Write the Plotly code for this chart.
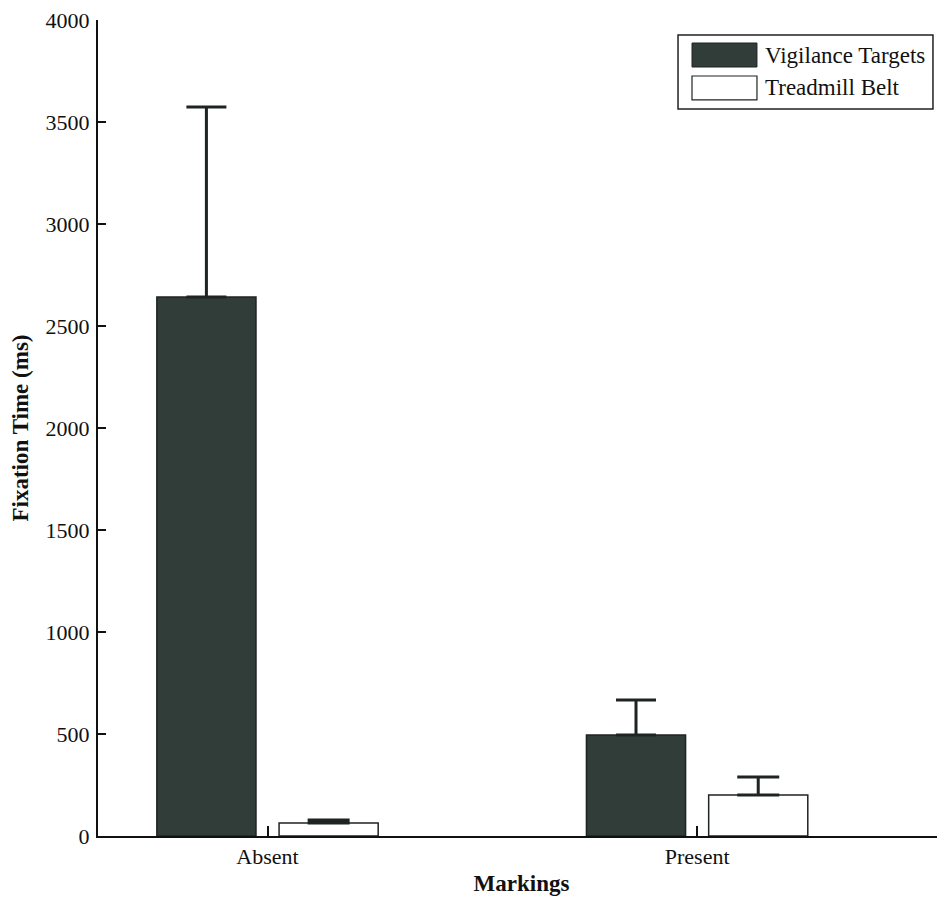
import plotly.graph_objects as go

categories = ["Absent", "Present"]
series_names = ["Vigilance Targets", "Treadmill Belt"]
vigilance_means = [2642, 495]
vigilance_err = [932, 172]
treadmill_means = [64, 201]
treadmill_err = [14, 88]
y_ticks = [0, 500, 1000, 1500, 2000, 2500, 3000, 3500, 4000]

DARK = "#313d38"
EDGE = "#1e2421"
FONT = "Liberation Serif"

fig = go.Figure()
fig.add_trace(go.Bar(
    x=categories, y=vigilance_means, name=series_names[0],
    marker=dict(color=DARK, line=dict(color=EDGE, width=1.5)),
    error_y=dict(type="data", array=vigilance_err, arrayminus=[0, 0], symmetric=False,
                 color=EDGE, thickness=3, width=20),
    showlegend=False,
))
fig.add_trace(go.Bar(
    x=categories, y=treadmill_means, name=series_names[1],
    marker=dict(color="white", line=dict(color=EDGE, width=1.5)),
    error_y=dict(type="data", array=treadmill_err, arrayminus=[0, 0], symmetric=False,
                 color=EDGE, thickness=3, width=21),
    showlegend=False,
))

# custom legend (box, swatches, labels)
shapes = [
    dict(type="rect", xref="paper", yref="paper", x0=0.6848, x1=0.9858, y0=0.8909, y1=0.9816,
         line=dict(color="#222", width=1.5), fillcolor="white", layer="above"),
    dict(type="rect", xref="paper", yref="paper", x0=0.7013, x1=0.7780, y0=0.9424, y1=0.9718,
         line=dict(color=EDGE, width=1), fillcolor=DARK, layer="above"),
    dict(type="rect", xref="paper", yref="paper", x0=0.7013, x1=0.7780, y0=0.9020, y1=0.9314,
         line=dict(color=EDGE, width=1.2), fillcolor="white", layer="above"),
]
annotations = [
    dict(xref="paper", yref="paper", x=0.785, y=0.957, text=series_names[0], showarrow=False,
         xanchor="left", yanchor="middle", font=dict(family=FONT, size=23, color="#111")),
    dict(xref="paper", yref="paper", x=0.785, y=0.9167, text=series_names[1], showarrow=False,
         xanchor="left", yanchor="middle", font=dict(family=FONT, size=23, color="#111")),
]

fig.update_layout(
    width=937, height=891,
    margin=dict(l=90, r=0, t=12, b=63),
    paper_bgcolor="white", plot_bgcolor="white",
    barmode="group", bargap=0.431, bargroupgap=0.189,
    font=dict(family=FONT, size=22, color="#111"),
    shapes=shapes, annotations=annotations,
    xaxis=dict(
        type="category", range=[-0.3946, 1.577],
        showline=True, linecolor="#111", linewidth=2,
        ticks="inside", ticklen=10, tickwidth=1.5, tickcolor="#111",
        showgrid=False, zeroline=False,
        title=dict(text="<b>Markings</b>", font=dict(family=FONT, size=23), standoff=6),
        tickfont=dict(family=FONT, size=22),
    ),
    yaxis=dict(
        range=[0, 4000], tickvals=y_ticks, ticklabeloverflow="allow",
        showline=True, linecolor="#111", linewidth=2,
        ticks="inside", ticklen=8, tickwidth=1.5, tickcolor="#111",
        showgrid=False, zeroline=False, ticklabelstandoff=2,
        title=dict(text="<b>Fixation Time (ms)</b>", font=dict(family=FONT, size=23), standoff=14),
        tickfont=dict(family=FONT, size=22),
    ),
)

fig.write_html("out.html")
